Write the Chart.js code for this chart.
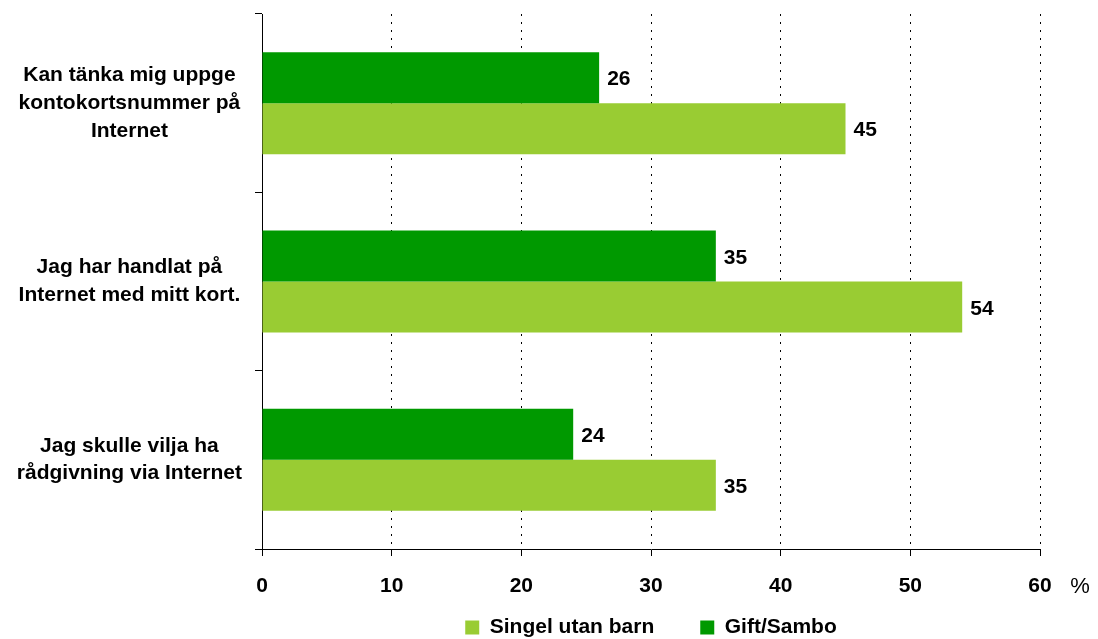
<!DOCTYPE html>
<html>
<head>
<meta charset="utf-8">
<script src="https://cdn.jsdelivr.net/npm/chart.js@4/dist/chart.umd.min.js"></script>
<style>
  html, body { margin: 0; padding: 0; background: #fff; }
  #wrap { width: 1098px; height: 639px; position: relative; }
</style>
</head>
<body>
<div id="wrap"><canvas id="chart"></canvas></div>
<script>
// categories, top to bottom
var categories = [
    ["Kan tänka mig uppge", "kontokortsnummer på", "Internet"],
    ["Jag har handlat på", "Internet med mitt kort."],
    ["Jag skulle vilja ha", "rådgivning via Internet"]
];
var giftSambo = [26, 35, 24];
var singelUtanBarn = [45, 54, 35];
var seriesNames = ["Gift/Sambo", "Singel utan barn"];
var xMin = 0, xMax = 60, xStep = 10;
var unitLabel = "%";

var FONT = "'Liberation Sans', Arial, sans-serif";

// value labels at the end of every bar
var valueLabels = {
    id: 'valueLabels',
    afterDatasetsDraw: function(chart) {
        var ctx = chart.ctx;
        ctx.save();
        ctx.font = "bold 21px " + FONT;
        ctx.fillStyle = "#000";
        ctx.textAlign = "left";
        ctx.textBaseline = "middle";
        chart.data.datasets.forEach(function(ds, i) {
            chart.getDatasetMeta(i).data.forEach(function(bar, j) {
                ctx.fillText(ds.data[j], bar.x + 8, bar.y + 2);
            });
        });
        ctx.restore();
    }
};

// the "%" unit right of the last tick
var unitMark = {
    id: 'unitMark',
    afterDraw: function(chart) {
        var ctx = chart.ctx;
        var x = chart.scales.x;
        ctx.save();
        ctx.font = "22px " + FONT;
        ctx.fillStyle = "#000";
        ctx.textAlign = "center";
        ctx.textBaseline = "middle";
        ctx.fillText(unitLabel, x.right + 40, x.top + 38);
        ctx.restore();
    }
};

// legend padding is wide for the item gap, so pull the box back up
var legendLift = {
    id: 'legendLift',
    afterLayout: function(chart) {
        chart.legend.top -= 29;
        chart.legend.bottom -= 29;
    }
};

new Chart(document.getElementById("chart"), {
    type: 'bar',
    data: {
        labels: categories,
        datasets: [{
            label: seriesNames[0],
            data: giftSambo,
            backgroundColor: "#009900"
        }, {
            label: seriesNames[1],
            data: singelUtanBarn,
            backgroundColor: "#99CC33"
        }]
    },
    options: {
        indexAxis: 'y',
        responsive: true,
        maintainAspectRatio: false,
        animation: false,
        devicePixelRatio: 1,
        categoryPercentage: 0.572,
        barPercentage: 1.0,
        layout: { padding: { top: 14, left: 0, right: 58, bottom: -38 } },
        scales: {
            x: {
                min: xMin,
                max: xMax,
                afterFit: function(scale) { scale.height = 51; },
                ticks: {
                    stepSize: xStep,
                    color: "#000",
                    padding: 18,
                    font: { family: FONT, size: 21, weight: 'bold' }
                },
                grid: {
                    color: "#000",
                    lineWidth: 1,
                    tickLength: 7,
                    tickBorderDash: []
                },
                border: { display: true, color: "#000", width: 1, dash: [2, 6] }
            },
            y: {
                afterFit: function(scale) {
                    scale.width = 262;
                    scale.paddingTop = 0;
                    scale.paddingBottom = 0;
                },
                ticks: {
                    color: "#000",
                    crossAlign: 'center',
                    padding: 13,
                    font: { family: FONT, size: 21, weight: 'bold', lineHeight: 1.32 }
                },
                grid: {
                    offset: true,
                    drawOnChartArea: false,
                    color: "#000",
                    tickLength: 7
                },
                border: { display: true, color: "#000", width: 1 }
            }
        },
        plugins: {
            tooltip: { enabled: false },
            legend: {
                position: 'bottom',
                fullSize: false,
                reverse: true,
                labels: {
                    color: "#000",
                    boxWidth: 14,
                    boxHeight: 14,
                    padding: 46,
                    font: { family: FONT, size: 21, weight: 'bold' }
                }
            }
        }
    },
    plugins: [valueLabels, unitMark, legendLift]
});
</script>
</body>
</html>
